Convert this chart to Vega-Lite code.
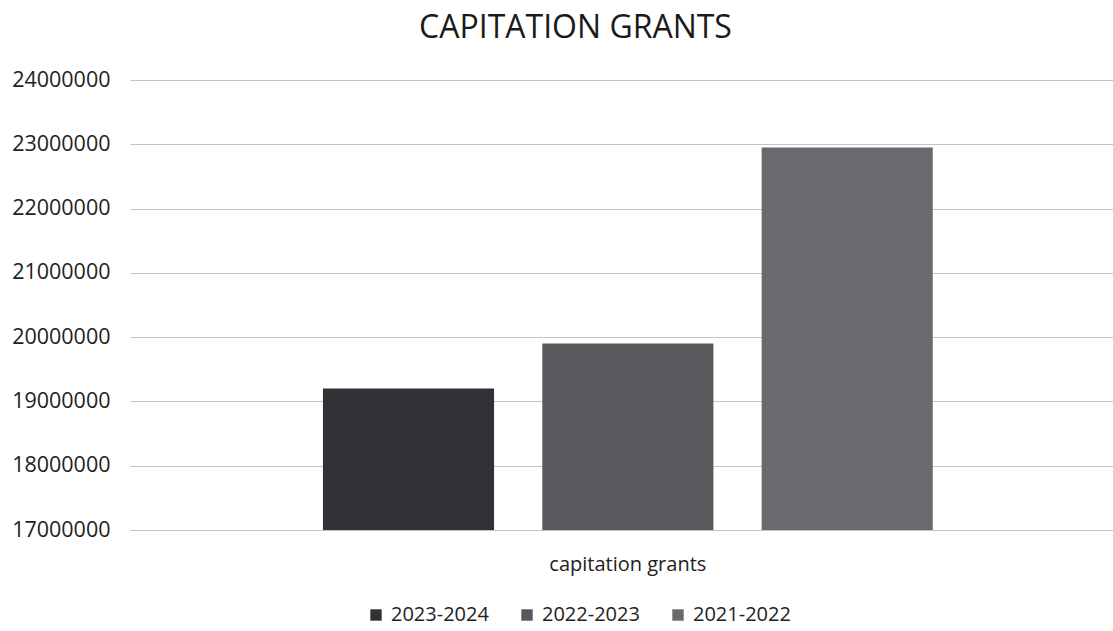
{
  "$schema": "https://vega.github.io/schema/vega-lite/v6.json",
  "autosize": {"type": "none"},
  "padding": {"left": 130, "top": 80, "right": 0, "bottom": 101},
  "width": 983,
  "height": 450,
  "background": "white",
  "title": {
    "text": "CAPITATION GRANTS",
    "fontSize": 32,
    "font": "Open Sans",
    "fontWeight": "normal",
    "color": "#1a1a1a",
    "anchor": "middle",
    "dx": -46,
    "offset": 24
  },
  "data": {
    "values": [
      {"category": "capitation grants", "year": "2023-2024", "value": 19200000},
      {"category": "capitation grants", "year": "2022-2023", "value": 19900000},
      {"category": "capitation grants", "year": "2021-2022", "value": 22950000}
    ]
  },
  "mark": {"type": "bar", "clip": true},
  "encoding": {
    "x": {
      "field": "category",
      "type": "nominal",
      "scale": {"paddingInner": 0, "paddingOuter": 0.306, "align": 0.517},
      "axis": {
        "title": null,
        "labelAngle": 0,
        "labelFontSize": 20,
        "labelFont": "Open Sans",
        "labelColor": "#222",
        "ticks": false,
        "domain": false,
        "labelPadding": 24
      }
    },
    "xOffset": {
      "field": "year",
      "type": "nominal",
      "sort": ["2023-2024", "2022-2023", "2021-2022"],
      "scale": {"paddingInner": 0.22, "paddingOuter": 0}
    },
    "y": {
      "field": "value",
      "type": "quantitative",
      "scale": {"domain": [17000000, 24000000], "zero": false, "nice": false},
      "axis": {
        "title": null,
        "values": [17000000, 18000000, 19000000, 20000000, 21000000, 22000000, 23000000, 24000000],
        "format": "d",
        "labelFontSize": 21.5,
        "labelFont": "Open Sans",
        "labelColor": "#222",
        "ticks": false,
        "domain": false,
        "labelPadding": 20,
        "grid": true,
        "gridColor": "#c4c4c8",
        "gridWidth": 1.2
      }
    },
    "color": {
      "field": "year",
      "type": "nominal",
      "sort": ["2023-2024", "2022-2023", "2021-2022"],
      "scale": {
        "domain": ["2023-2024", "2022-2023", "2021-2022"],
        "range": ["#303035", "#58585d", "#69696e"]
      },
      "legend": {
        "title": null,
        "orient": "none",
        "direction": "horizontal",
        "legendX": 236,
        "legendY": 525,
        "symbolType": "square",
        "symbolSize": 130,
        "labelFontSize": 20,
        "labelFont": "Open Sans",
        "labelColor": "#222",
        "columnPadding": 28,
        "labelOffset": 5
      }
    }
  },
  "config": {"view": {"stroke": null}}
}
